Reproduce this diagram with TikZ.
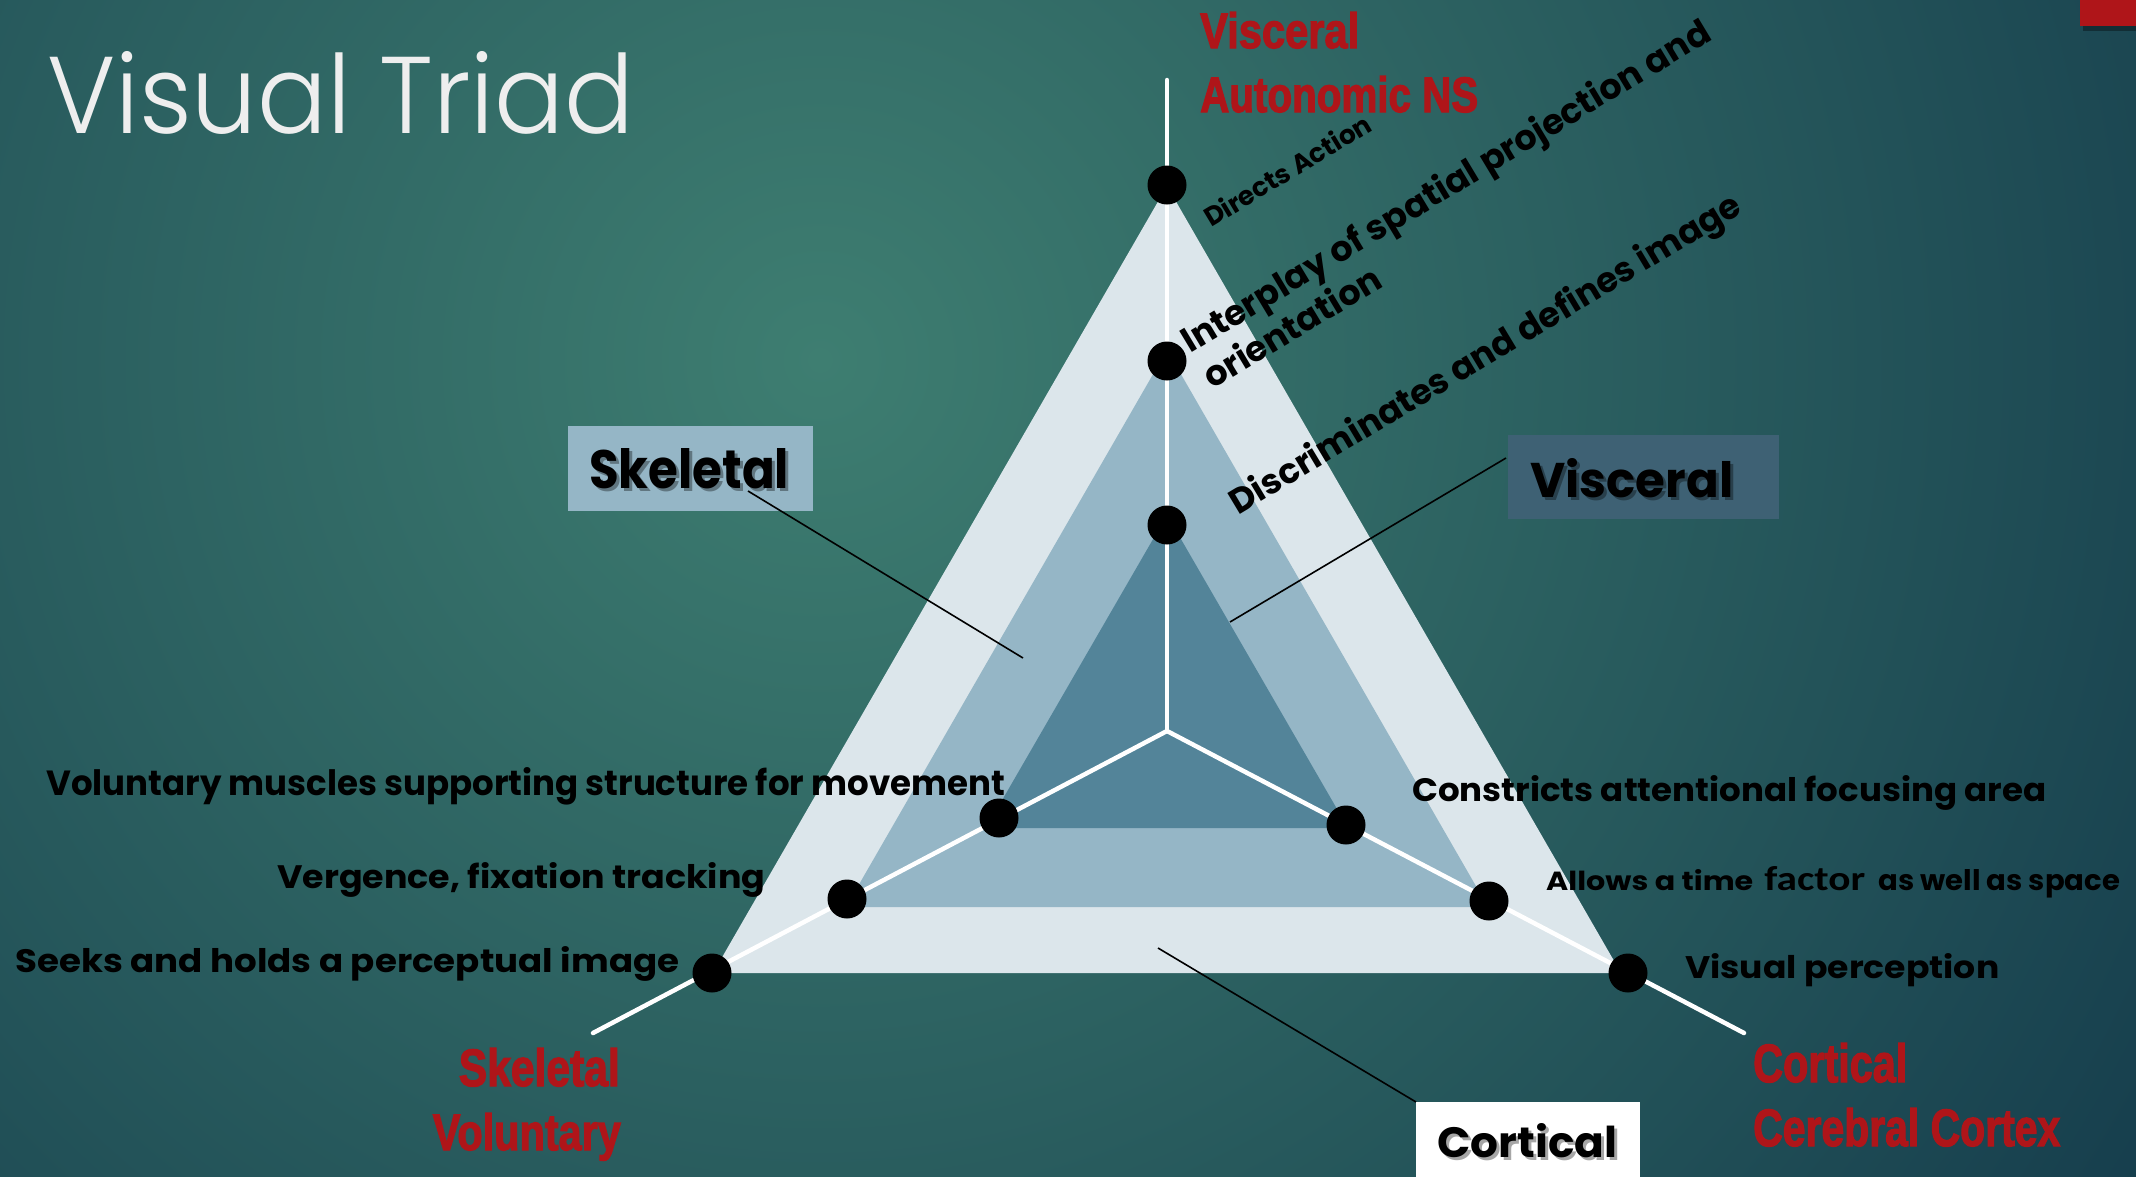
\documentclass[tikz,border=0pt]{standalone}
\usepackage{fontspec}
\usepackage{graphicx}
\setmainfont{Poppins}
\newfontfamily\titlefont{Poppins Light}
\newfontfamily\redfont[FakeBold=2.6]{Liberation Sans Bold}
\newfontfamily\factorfont{Carlito Bold}
\newcommand\sizedtext[3]{\resizebox{#1pt}{#2pt}{#3}}

\definecolor{bgin}{HTML}{3E7E71}
\definecolor{bgout}{HTML}{163E4D}
\definecolor{triA}{HTML}{DCE6EB}
\definecolor{triB}{HTML}{95B6C6}
\definecolor{triC}{HTML}{538499}
\definecolor{viscfill}{HTML}{3E6174}
\definecolor{redtxt}{HTML}{AF1519}
\definecolor{titlecol}{HTML}{EEEEEE}

\begin{document}
\begin{tikzpicture}[x=1pt,y=-1pt,
  dot/.style={circle,fill=black,inner sep=0pt,minimum size=39pt},
  spoke/.style={draw=white,line width=4.5pt,line cap=round},
  lbl/.style={inner sep=0pt,font=\bfseries,text=black},
  redlbl/.style={inner sep=0pt,font=\redfont,text=redtxt},
  tagbox/.style={inner sep=0pt,anchor=north west},
  shadowtxt/.style={inner sep=0pt,font=\bfseries,text=black,opacity=0.35},
  lead/.style={draw=black,line width=1.6pt}]

% background
\useasboundingbox (0,0) rectangle (2136,1176);
\fill[bgout] (0,0) rectangle (2136,1176);
\begin{scope}
  \clip (0,0) rectangle (2136,1176);
  \shade[inner color=bgin,outer color=bgout] (820,360) circle (1560pt);
\end{scope}

% corner tab
\fill[black,opacity=0.35] (2083,3) rectangle (2136,31);
\fill[redtxt] (2080,0) rectangle (2136,26);

% title
\node[inner sep=0pt,anchor=base west,text=titlecol] (title) at (47,133)
  {\sizedtext{587}{82}{\titlefont Visual Triad}};

% nested triangles
\fill[triA] (1167,186) -- (713,973) -- (1621,973) -- cycle;
\fill[triB] (1167,350) -- (846,907) -- (1488,907) -- cycle;
\fill[triC] (1167,515) -- (986,828) -- (1348,828) -- cycle;

% spokes
\coordinate (hub) at (1167,731);
\coordinate (topEnd) at (1167,80);
\coordinate (leftEnd) at (593,1033);
\coordinate (rightEnd) at (1744,1033);
\draw[spoke] (hub) -- (topEnd);
\draw[spoke] (hub) -- (leftEnd);
\draw[spoke] (hub) -- (rightEnd);

% level markers
\node[dot] (t1) at (1167,185) {};
\node[dot] (t2) at (1167,361) {};
\node[dot] (t3) at (1167,525) {};
\node[dot] (l1) at (712,973) {};
\node[dot] (l2) at (847,899) {};
\node[dot] (l3) at (999,818) {};
\node[dot] (r1) at (1628,973) {};
\node[dot] (r2) at (1489,901) {};
\node[dot] (r3) at (1346,825) {};

% axis labels
\node[redlbl,anchor=base west] (viscA) at (1200,48) {\sizedtext{159}{36}{Visceral}};
\node[redlbl,anchor=base west] (viscB) at (1200,112) {\sizedtext{278}{36}{Autonomic NS}};
\node[redlbl,anchor=base east] (skelA) at (620,1086) {\sizedtext{161}{38}{Skeletal}};
\node[redlbl,anchor=base east] (skelB) at (621,1150) {\sizedtext{188}{37}{Voluntary}};
\node[redlbl,anchor=base west] (cortA) at (1753,1082) {\sizedtext{154}{39}{Cortical}};
\node[redlbl,anchor=base west] (cortB) at (1753,1146) {\sizedtext{307}{38}{Cerebral Cortex}};

% skeletal axis descriptions
\node[lbl,anchor=base west] (volmus) at (46,795)
  {\sizedtext{959}{28}{Voluntary muscles supporting structure for movement}};
\node[lbl,anchor=base west] (verg) at (277,888)
  {\sizedtext{488}{26}{Vergence, fixation tracking}};
\node[lbl,anchor=base west] (seeks) at (15,972)
  {\sizedtext{664}{26}{Seeks and holds a perceptual image}};

% cortical axis descriptions
\node[lbl,anchor=base west] (constr) at (1412,801)
  {\sizedtext{634}{26}{Constricts attentional focusing area}};
\node[lbl,anchor=base west] (allows) at (1546,890)
  {\sizedtext{207}{21}{Allows a time}\hspace{11pt}\sizedtext{101}{24}{\factorfont factor}\hspace{13pt}\sizedtext{242}{21}{as well as space}};
\node[lbl,anchor=base west] (visperc) at (1685,978)
  {\sizedtext{314}{25}{Visual perception}};

% visceral axis descriptions
\node[lbl,anchor=base west,rotate=31] (directs) at (1211,228)
  {\resizebox{190pt}{!}{Directs Action}};
\node[lbl,anchor=base west,rotate=31,font=\bfseries\fontsize{35}{42}\selectfont] (interplay) at (1190,354)
  {Interplay of spatial projection and};
\node[lbl,anchor=base west,rotate=31,font=\bfseries\fontsize{35}{42}\selectfont] (orient) at (1212,390)
  {orientation};
\node[lbl,anchor=base west,rotate=31] (discr) at (1238,516)
  {\resizebox{590pt}{!}{Discriminates and defines image}};

% region tags
\node[tagbox,fill=triB,minimum width=245pt,minimum height=85pt] (skelBox) at (568,426) {};
\node[shadowtxt,anchor=base west] (skelShadow) at (592,491) {\sizedtext{200}{40}{Skeletal}};
\node[lbl,anchor=base west] (skelTag) at (589,488) {\sizedtext{200}{40}{Skeletal}};

\node[tagbox,fill=viscfill,minimum width=271pt,minimum height=84pt] (viscBox) at (1508,435) {};
\node[shadowtxt,anchor=base west] (viscShadow) at (1533,500) {\sizedtext{203}{39}{Visceral}};
\node[lbl,anchor=base west] (viscTag) at (1530,497) {\sizedtext{203}{39}{Visceral}};

\node[tagbox,fill=white,minimum width=224pt,minimum height=80pt] (cortBox) at (1416,1102) {};
\node[shadowtxt,anchor=base west] (cortShadow) at (1440,1160) {\sizedtext{180}{34}{Cortical}};
\node[lbl,anchor=base west] (cortTag) at (1437,1157) {\sizedtext{180}{34}{Cortical}};

% leader lines
\coordinate (skelFoot) at (748,491);
\coordinate (skelTip) at (1023,658);
\coordinate (viscFoot) at (1506,458);
\coordinate (viscTip) at (1230,622);
\coordinate (cortTip) at (1158,948);
\draw[lead] (skelFoot) -- (skelTip);
\draw[lead] (viscFoot) -- (viscTip);
\draw[lead] (cortBox.north west) -- (cortTip);
\end{tikzpicture}
\end{document}
